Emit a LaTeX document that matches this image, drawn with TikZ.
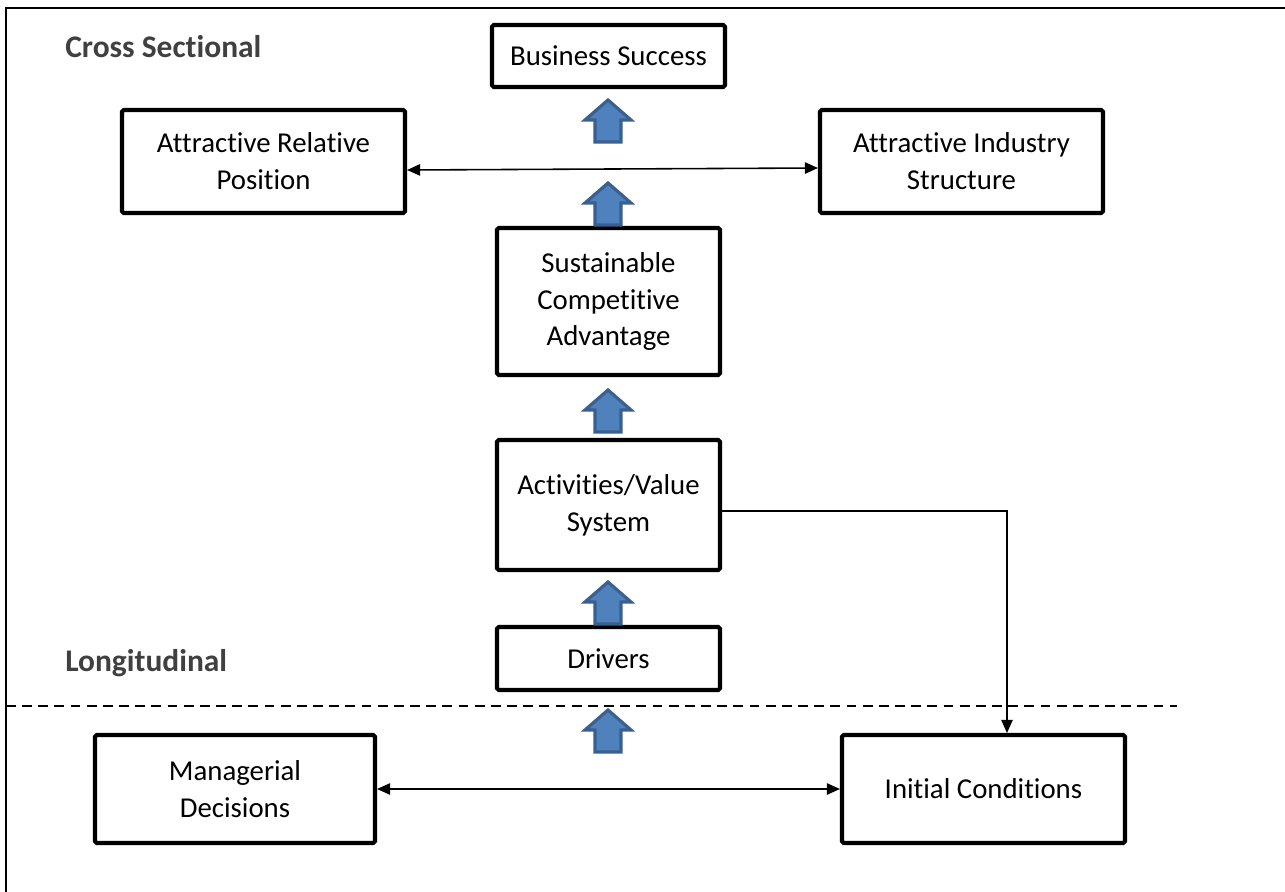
\documentclass[tikz,border=0pt]{standalone}
\usepackage{fontspec}
\setmainfont{Carlito}[Ligatures={NoCommon,NoContextual}]
\usetikzlibrary{arrows.meta}
\definecolor{arrowfill}{HTML}{4F81BD}
\definecolor{arrowedge}{HTML}{3A6090}
\definecolor{labelgray}{HTML}{404040}
\begin{document}
\begin{tikzpicture}[x=0.02cm,y=-0.02cm,
  box/.style={draw,line width=2.3pt,rounded corners=1pt,align=center,inner sep=0pt,
    font=\fontsize{16.4}{21}\selectfont},
  conn/.style={line width=0.9pt,-{Triangle[length=7.5pt,width=6.5pt]}},
  biconn/.style={line width=0.9pt,{Triangle[length=7.5pt,width=6.5pt]}-{Triangle[length=7.5pt,width=6.5pt]}},
  section/.style={anchor=west,inner sep=0pt,text=labelgray,font=\fontsize{17.9}{21}\selectfont\bfseries},
  uparrow/.pic={
    \draw[fill=arrowfill,draw=arrowedge,line width=1.8pt,line join=miter]
      (-13,21) -- (-13,-1) -- (-23,-1) -- (0,-21) -- (23,-1) -- (13,-1) -- (13,21) -- cycle;
  }]
\useasboundingbox (0,0) rectangle (1285,892);

% frame: left and top rules only
\draw[line width=1.1pt] (6,892) -- (6,8) -- (1285,8);

% section headings and divider
\node[section] (cross) at (65,47) {Cross Sectional};
\node[section] (longi) at (65,663) {Longitudinal};
\draw[line width=0.9pt,dash pattern=on 5.6pt off 3.6pt] (6,706) -- (1177,706);

% boxes
\node[box,minimum width=233*0.02cm,minimum height=62*0.02cm] (bs) at (608.5,56) {Business Success};
\node[box,minimum width=283*0.02cm,minimum height=103*0.02cm] (arp) at (263.5,161.5) {Attractive Relative\\Position};
\node[box,minimum width=283*0.02cm,minimum height=103*0.02cm] (ais) at (961.5,161.5) {Attractive Industry\\Structure};
\node[box,minimum width=223*0.02cm,minimum height=147*0.02cm] (sca) at (608.5,301.5) {Sustainable\\Competitive\\Advantage};
\node[box,minimum width=223*0.02cm,minimum height=130*0.02cm] (avs) at (608.5,505) {Activities/Value\\System};
\node[box,minimum width=223*0.02cm,minimum height=63*0.02cm] (drv) at (608.5,658.5) {Drivers};
\node[box,minimum width=280*0.02cm,minimum height=108*0.02cm] (md) at (235,789) {Managerial\\Decisions};
\node[box,minimum width=283*0.02cm,minimum height=108*0.02cm] (ic) at (983.5,789) {Initial Conditions};

% block arrows
\pic at (608,121) {uparrow};
\pic at (608,204) {uparrow};
\pic at (608,411) {uparrow};
\pic at (608,603) {uparrow};
\pic at (608,731) {uparrow};

% connectors
\draw[biconn] (arp.east |- 0,170) -- (ais.west |- 0,168);
\draw[biconn] (md.east) -- (ic.west);
\coordinate (bend) at (1007,511);
\draw[conn] (avs.east |- bend) -- (bend) -- (bend |- ic.north);
\end{tikzpicture}
\end{document}
